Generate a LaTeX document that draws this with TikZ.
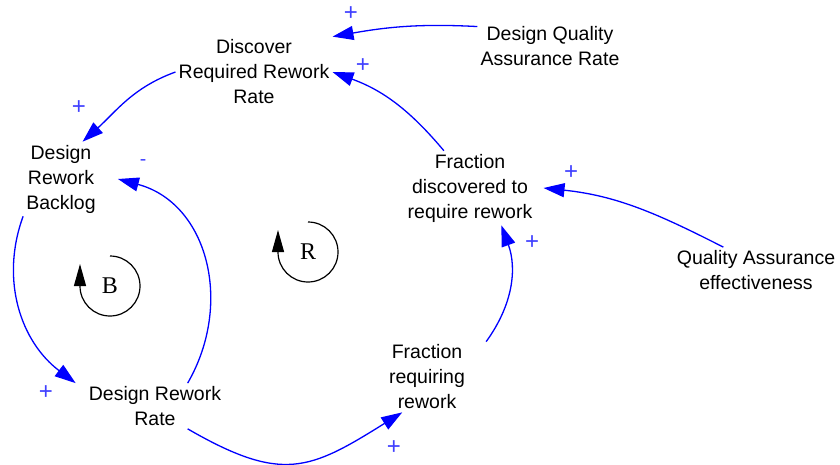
\documentclass[tikz,border=0pt]{standalone}
\usepackage{fontspec}
\setmainfont{Liberation Sans}
\newfontfamily\loopfont{Liberation Serif}
\usetikzlibrary{arrows.meta}

\begin{document}
\begin{tikzpicture}[x=1pt, y=1pt,
    var/.style={align=center, inner sep=3pt, font=\fontsize{19.5}{25}\selectfont},
    link/.style={draw=blue, line width=1.3pt, -{Triangle[length=21pt, width=14pt]}},
    pol/.style={text=blue!75, inner sep=0pt, font=\fontsize{24}{28}\selectfont},
    loopsign/.style={inner sep=0pt, font=\loopfont\fontsize{24}{28}\selectfont},
    looparrow/.style={draw=black, line width=1.2pt, -{Triangle[length=22pt, width=12pt]}}]
    \useasboundingbox (0,0) rectangle (840,-465);

    % variables
    \node[var] (disc) at (254,-72) {Discover\\Required Rework\\Rate};
    \node[var] (dqar) at (550,-46) {Design Quality\\Assurance Rate};
    \node[var] (back) at (61,-179) {Design\\Rework\\Backlog};
    \node[var] (fd) at (470,-188) {Fraction\\discovered to\\require rework};
    \node[var] (qae) at (756,-270) {Quality Assurance\\effectiveness};
    \node[var] (drr) at (155,-406) {Design Rework\\Rate};
    \node[var] (fr) at (427,-377) {Fraction\\requiring\\rework};

    % links
    \draw[link] (dqar.165) to[out=177, in=10] (disc.north east);
    \draw[link] (fd.125) to[out=130, in=-20] (disc.east);
    \draw[link] (disc.west) to[out=200, in=42] (back.60);
    \draw[link] (qae.145) to[out=153, in=-6] ([xshift=8pt]fd.east);
    \draw[link] ([xshift=18pt]fr.north east) to[out=54, in=-70] (fd.-50);
    \draw[link] (back.south west) to[out=-110, in=143] ([xshift=-10pt]drr.north west);
    \draw[link] (drr.35) to[out=60, in=-15, looseness=1.1] ([xshift=19pt]back.east);
    \draw[link] (drr.-35) to[out=-30, in=-148, looseness=1.3] (fr.-125);

    % polarities
    \node[pol] (p1) at (351,-14) {+};
    \node[pol] (p2) at (363,-66) {+};
    \node[pol] (p3) at (79,-108) {+};
    \node[pol] (p4) at (571,-173) {+};
    \node[pol] (p5) at (532,-243) {+};
    \node[pol] (p6) at (46,-393) {+};
    \node[pol] (p7) at (394,-448) {+};
    \node[pol, font=\fontsize{19.5}{25}\selectfont] (p8) at (143,-163) {-};

    % loops
    \node[loopsign] (B) at (110,-286) {B};
    \draw[looparrow] ([yshift=30pt]B.center) arc[start angle=90, end angle=-180, radius=30] -- ++(0,22);
    \node[loopsign] (R) at (308,-252) {R};
    \draw[looparrow] ([yshift=30pt]R.center) arc[start angle=90, end angle=-180, radius=30] -- ++(0,22);
\end{tikzpicture}
\end{document}
